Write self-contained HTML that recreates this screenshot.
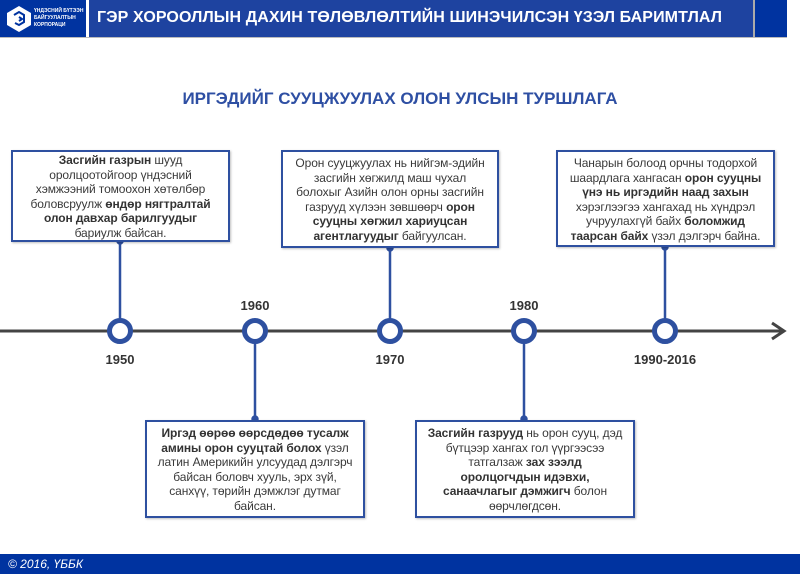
<!DOCTYPE html>
<html><head><meta charset="utf-8"><style>
body{margin:0;width:800px;height:578px;position:relative;background:#fff;font-family:"Liberation Sans",Arial,sans-serif;overflow:hidden}
.a{position:absolute}
.box{position:absolute;border:2.5px solid #2e50a0;background:#fff;box-sizing:border-box;text-align:center;font-size:12px;line-height:14.5px;color:#3a3a3a;padding-top:1px;letter-spacing:-0.1px;white-space:nowrap;box-shadow:1px 1px 2px rgba(0,0,0,.25)}
.box b{color:#333}
.yr{position:absolute;font-weight:bold;font-size:13px;color:#333;width:80px;text-align:center}
</style></head><body>
<div class="a" style="left:0;top:0;width:86px;height:37px;background:#0033a0"></div>
<svg class="a" style="left:6px;top:5px" width="26" height="28" viewBox="0 0 26 28"><polygon points="13,1 25,8 25,20 13,27 1,20 1,8" fill="#fff"/><path d="M8 10 L13 7 L18 10 L18 17 L13 20 L9 18 M13 12 L16 14 L13 16" stroke="#0033a0" stroke-width="2" fill="none"/></svg>
<div class="a" style="left:34px;top:8px;color:#fff;font-size:5px;line-height:7px;font-weight:bold;white-space:nowrap">ҮНДЭСНИЙ БҮТЭЭН<br>БАЙГУУЛАЛТЫН<br>КОРПОРАЦИ</div>
<div class="a" style="left:89px;top:0;width:664px;height:37px;background:#1e43a0"></div>
<div class="a" style="left:97px;top:9px;color:#fff;font-weight:bold;font-size:16px;letter-spacing:0.1px">ГЭР ХОРООЛЛЫН ДАХИН ТӨЛӨВЛӨЛТИЙН ШИНЭЧИЛСЭН ҮЗЭЛ БАРИМТЛАЛ</div>
<div class="a" style="left:753px;top:0;width:2px;height:37px;background:#aaa"></div>
<div class="a" style="left:755px;top:0;width:32px;height:37px;background:#0033a0"></div>
<div class="a" style="left:0;top:37px;width:787px;height:1px;background:#bbb"></div>
<div class="a" style="left:0;top:89px;width:800px;text-align:center;color:#2e4fa3;font-weight:bold;font-size:17px">ИРГЭДИЙГ СУУЦЖУУЛАХ ОЛОН УЛСЫН ТУРШЛАГА</div>
<svg class="a" style="left:0;top:0" width="800" height="578">
<line x1="0" y1="331" x2="782" y2="331" stroke="#444" stroke-width="3"/>
<polyline points="772,323 784,331 772,339" fill="none" stroke="#444" stroke-width="3"/>
<g stroke="#2e50a0" stroke-width="2.5" fill="#2e50a0">
<line x1="120" y1="239" x2="120" y2="320"/><circle cx="120" cy="241" r="2.5"/>
<line x1="390" y1="247" x2="390" y2="320"/><circle cx="390" cy="248" r="2.5"/>
<line x1="665" y1="246" x2="665" y2="320"/><circle cx="665" cy="247" r="2.5"/>
<line x1="255" y1="342" x2="255" y2="420"/><circle cx="255" cy="419" r="2.5"/>
<line x1="524" y1="342" x2="524" y2="420"/><circle cx="524" cy="419" r="2.5"/>
</g>
<g stroke="#2e50a0" stroke-width="5" fill="#fff">
<circle cx="120" cy="331" r="10.5"/><circle cx="255" cy="331" r="10.5"/><circle cx="390" cy="331" r="10.5"/><circle cx="524" cy="331" r="10.5"/><circle cx="665" cy="331" r="10.5"/>
</g>
</svg>
<div class="yr" style="left:80px;top:352px">1950</div>
<div class="yr" style="left:215px;top:298px">1960</div>
<div class="yr" style="left:350px;top:352px">1970</div>
<div class="yr" style="left:484px;top:298px">1980</div>
<div class="yr" style="left:615px;top:352px;width:100px">1990-2016</div>
<div class="box" style="left:11px;top:150px;width:219px;height:92px"><b>Засгийн газрын</b> шууд<br>оролцоотойгоор үндэсний<br>хэмжээний томоохон хөтөлбөр<br>боловсруулж <b>өндөр нягтралтай<br>олон давхар барилгуудыг</b><br>бариулж байсан.</div>
<div class="box" style="left:281px;top:150px;width:218px;height:98px;padding-top:4px">Орон сууцжуулах нь нийгэм-эдийн<br>засгийн хөгжилд маш чухал<br>болохыг Азийн олон орны засгийн<br>газрууд хүлээн зөвшөөрч <b>орон<br>сууцны хөгжил хариуцсан<br>агентлагуудыг</b> байгуулсан.</div>
<div class="box" style="left:556px;top:150px;width:219px;height:97px;padding-top:4px">Чанарын болоод орчны тодорхой<br>шаардлага хангасан <b>орон сууцны<br>үнэ нь иргэдийн наад захын</b><br>хэрэглээгээ хангахад нь хүндрэл<br>учруулахгүй байх <b>боломжид<br>таарсан байх</b> үзэл дэлгэрч байна.</div>
<div class="box" style="left:145px;top:420px;width:220px;height:98px;padding-top:4px"><b>Иргэд өөрөө өөрсдөдөө тусалж<br>амины орон сууцтай болох</b> үзэл<br>латин Америкийн улсуудад дэлгэрч<br>байсан боловч хууль, эрх зүй,<br>санхүү, төрийн дэмжлэг дутмаг<br>байсан.</div>
<div class="box" style="left:415px;top:420px;width:220px;height:98px;padding-top:4px"><b>Засгийн газрууд</b> нь орон сууц, дэд<br>бүтцээр хангах гол үүргээсээ<br>татгалзаж <b>зах зээлд<br>оролцогчдын идэвхи,<br>санаачлагыг дэмжигч</b> болон<br>өөрчлөгдсөн.</div>
<div class="a" style="left:0;top:554px;width:800px;height:20px;background:#0033a0"></div>
<div class="a" style="left:8px;top:557px;color:#fff;font-style:italic;font-size:12px">© 2016, ҮББК</div>
</body></html>
